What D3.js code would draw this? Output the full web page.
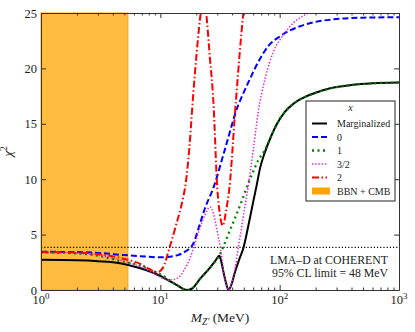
<!DOCTYPE html>
<html>
<head>
<meta charset="utf-8">
<script src="https://cdn.jsdelivr.net/npm/d3@7"></script>
<style>
  body { margin: 0; background: #fff; }
  svg text { font-family: "Liberation Serif", "DejaVu Serif", serif; fill: #222; }
</style>
</head>
<body>
<div id="chart"></div>
<script>
// data: [M_Z' (MeV), chi^2]
const marginalized = [[1,2.72],[2,2.68],[3,2.6],[4.6,2.42],[6.8,1.96],[8.5,1.6],[10.3,1.2],[12,0.8],[14,0.4],[15.5,0.1],[17,0],[18.5,0.15],[21.5,1.0],[26,2.0],[29,2.65],[31.2,3.1],[32.5,2.5],[34,1.5],[35.8,0.5],[37.2,0],[39,0.35],[42.3,1.65],[46,2.8],[49.6,3.76],[55,5.95],[60,7.95],[64.3,9.5],[68.5,11.0],[75,12.4],[85,13.9],[95,15.0],[111,16.1],[130,16.8],[148,17.2],[200,17.8],[265,18.2],[400,18.5],[600,18.65],[1000,18.72]];
const x0 = [[1,3.45],[2,3.42],[3,3.35],[5,3.15],[8,3.0],[10,2.95],[12,3.0],[14,3.15],[16.1,3.46],[18.9,4.2],[21.5,6.0],[23.7,7.4],[27.8,9.2],[35,12.8],[45,16.7],[47.5,17.3],[55,18.8],[66.3,20.6],[80,22.0],[104,23.0],[148,23.8],[265,24.4],[500,24.58],[1000,24.62]];
const x1 = [[1,3.4],[2,3.3],[3,3.1],[4.6,2.62],[6.8,2.2],[8.2,1.85],[10.3,1.35],[12,0.85],[14,0.4],[15.5,0.1],[17,0],[18.5,0.15],[21.5,1.0],[26,2.0],[29,2.65],[31.2,3.1],[34,4.0],[37,5.0],[42.3,6.5],[48,8.0],[54.7,9.66],[59.5,10.6],[66,11.7],[75,12.6],[85,13.9],[95,15.0],[111,16.1],[130,16.8],[148,17.2],[200,17.8],[265,18.2],[400,18.5],[600,18.65],[1000,18.72]];
const x32 = [[1,3.4],[2,3.32],[3,3.15],[4.6,2.7],[6.8,2.1],[8.5,1.6],[10,1.15],[11.6,0.9],[13,0.95],[14.6,1.25],[16,1.9],[17.7,2.86],[19.5,4.2],[21.5,5.6],[23.5,6.7],[26.1,7.5],[28,6.8],[30,5.3],[32.1,3.6],[33,2.7],[34,1.5],[35.8,0.5],[37.2,0],[39,0.35],[42,1.8],[45,3.8],[50,6.9],[54.7,9.5],[60,12.6],[66,16.0],[75.5,19.1],[88.6,21.5],[107,23.0],[130,24.1],[174,25],[300,26],[1000,27]];
const x2 = [[1,3.42],[2,3.38],[3,3.25],[4.6,2.9],[6.8,2.35],[8.2,1.85],[9.4,1.6],[10.5,2.0],[12,3.9],[13.5,5.8],[15.5,8.3],[16.1,9.2],[17.5,12.8],[18.7,17.1],[20.2,21.5],[21.8,25],[23,26.3],[24.2,25],[26,21.0],[27.8,17.1],[30,9.2],[31.5,6.9],[33.4,5.8],[35.5,7.1],[37.9,9.2],[43,17.1],[49.6,25],[52,27]];

const bbnLimit = 5.35;      // BBN + CMB excluded below this mass
const clLine = 3.84;        // 95% CL
const xMajor = [1, 10, 100, 1000];
const xMajorExp = ["0", "1", "2", "3"];
const xMinor = [2,3,4,5,6,7,8,9,20,30,40,50,60,70,80,90,200,300,400,500,600,700,800,900];
const yTicks = [0, 5, 10, 15, 20, 25];

const series = [
  { name: "Marginalized", data: marginalized, color: "#000", width: 2, dash: null },
  { name: "0", data: x0, color: "#0000ff", width: 2, dash: "6,3" },
  { name: "1", data: x1, color: "#008000", width: 2.3, dash: "2,3.5" },
  { name: "3/2", data: x32, color: "#dd22dd", width: 1.5, dash: "1.4,1.8" },
  { name: "2", data: x2, color: "#ff0000", width: 2, dash: "7,2.5,1.5,2.5" }
];

const margin = { top: 13, right: 16, bottom: 42, left: 41 };
const width = 415 - margin.left - margin.right;
const height = 332 - margin.top - margin.bottom;

const root = d3.select("#chart")
  .append("svg")
  .attr("width", 415)
  .attr("height", 332);

const svg = root.append("g")
  .attr("transform", `translate(${margin.left}, ${margin.top})`);

const xScale = d3.scaleLog().domain([1, 1000]).range([0, width]);
const yScale = d3.scaleLinear().domain([0, 25]).range([height, 0]);

svg.append("clipPath").attr("id", "plotclip")
  .append("rect").attr("width", width).attr("height", height);

// BBN + CMB band
svg.append("rect")
  .attr("x", 0)
  .attr("y", 0)
  .attr("width", xScale(bbnLimit))
  .attr("height", height)
  .attr("fill", "orange")
  .attr("fill-opacity", 0.75)
  .attr("stroke", "orange")
  .attr("stroke-width", 1);

// 95% CL line
svg.append("line")
  .attr("x1", 0).attr("x2", width)
  .attr("y1", yScale(clLine)).attr("y2", yScale(clLine))
  .attr("stroke", "#000")
  .attr("stroke-width", 1.2)
  .attr("stroke-dasharray", "1.2,2");

const line = d3.line()
  .x(d => xScale(d[0]))
  .y(d => yScale(d[1]))
  .curve(d3.curveMonotoneX);

const lines = svg.append("g").attr("clip-path", "url(#plotclip)");
series.forEach(s => {
  lines.append("path")
    .datum(s.data)
    .attr("d", line)
    .attr("fill", "none")
    .attr("stroke", s.color)
    .attr("stroke-width", s.width)
    .attr("stroke-dasharray", s.dash);
});

// axes, ticks pointing inward on all four sides
const axisColor = "#333";
function styleAxis(g) {
  g.selectAll("path.domain").attr("stroke", axisColor);
  g.selectAll(".tick line").attr("stroke", axisColor);
}

svg.append("g")
  .attr("transform", `translate(0, ${height})`)
  .call(d3.axisBottom(xScale).tickValues(xMajor).tickSize(-5).tickSizeOuter(0).tickFormat(""))
  .call(styleAxis);
svg.append("g")
  .attr("transform", `translate(0, ${height})`)
  .call(d3.axisBottom(xScale).tickValues(xMinor).tickSize(-2.5).tickSizeOuter(0).tickFormat(""))
  .call(styleAxis)
  .select("path.domain").remove();
svg.append("g")
  .call(d3.axisTop(xScale).tickValues(xMajor).tickSize(-5).tickSizeOuter(0).tickFormat(""))
  .call(styleAxis);
svg.append("g")
  .call(d3.axisTop(xScale).tickValues(xMinor).tickSize(-2.5).tickSizeOuter(0).tickFormat(""))
  .call(styleAxis)
  .select("path.domain").remove();

svg.append("g")
  .call(d3.axisLeft(yScale).tickValues(yTicks).tickSize(-5).tickSizeOuter(0).tickPadding(4))
  .call(styleAxis)
  .call(g => g.selectAll("text")
    .attr("font-size", 12.5)
    .attr("font-family", "Liberation Serif, serif")
    .attr("fill", "#222"));
svg.append("g")
  .attr("transform", `translate(${width}, 0)`)
  .call(d3.axisRight(yScale).tickValues(yTicks).tickSize(-5).tickSizeOuter(0).tickFormat(""))
  .call(styleAxis);

// x tick labels 10^k
xMajor.forEach((v, i) => {
  const t = svg.append("text")
    .attr("x", xScale(v))
    .attr("y", height + 14)
    .attr("text-anchor", "middle")
    .attr("font-size", 12.5);
  t.append("tspan").text("10");
  t.append("tspan").attr("dy", -5).attr("font-size", 9).text(xMajorExp[i]);
});

// axis titles
const xl = svg.append("text")
  .attr("x", width / 2)
  .attr("y", height + 32)
  .attr("text-anchor", "middle")
  .attr("font-size", 13.5);
xl.append("tspan").attr("font-style", "italic").text("M");
xl.append("tspan").attr("font-style", "italic").attr("font-size", 9.5).attr("dy", 3).text("Z\u2032");
xl.append("tspan").attr("dy", -3).text(" (MeV)");

const yl = svg.append("text")
  .attr("transform", `translate(${-29}, ${height / 2}) rotate(-90)`)
  .attr("text-anchor", "middle")
  .attr("font-size", 13.5);
yl.append("tspan").attr("font-style", "italic").text("\u03c7");
yl.append("tspan").attr("dy", -5).attr("font-size", 9.5).text("2");

// annotation
svg.append("text")
  .attr("x", 347).attr("y", 251)
  .attr("text-anchor", "end")
  .attr("font-size", 11.8)
  .text("LMA\u2013D at COHERENT");
svg.append("text")
  .attr("x", 347).attr("y", 264)
  .attr("text-anchor", "end")
  .attr("font-size", 11.8)
  .text("95% CL limit = 48 MeV");

// legend
const legend = svg.append("g").attr("transform", `translate(${306 - margin.left}, ${101 - margin.top})`);
legend.append("rect")
  .attr("width", 89).attr("height", 100)
  .attr("fill", "#fff")
  .attr("stroke", "#222")
  .attr("stroke-width", 1);
legend.append("text")
  .attr("x", 44.5).attr("y", 10)
  .attr("text-anchor", "middle")
  .attr("font-size", 10)
  .attr("font-style", "italic")
  .text("x");

const rowY = d3.scalePoint().domain(series.map(s => s.name).concat(["BBN + CMB"])).range([22.5, 90]);
series.forEach(s => {
  legend.append("line")
    .attr("x1", 6).attr("x2", 21)
    .attr("y1", rowY(s.name)).attr("y2", rowY(s.name))
    .attr("stroke", s.color)
    .attr("stroke-width", s.width)
    .attr("stroke-dasharray", s.dash);
  legend.append("text")
    .attr("x", 31).attr("y", rowY(s.name) + 3.5)
    .attr("font-size", 10)
    .text(s.name);
});
legend.append("rect")
  .attr("x", 6).attr("y", rowY("BBN + CMB") - 3.5)
  .attr("width", 18).attr("height", 7)
  .attr("fill", "orange");
legend.append("text")
  .attr("x", 31).attr("y", rowY("BBN + CMB") + 3.5)
  .attr("font-size", 10)
  .text("BBN + CMB");
</script>
</body>
</html>
